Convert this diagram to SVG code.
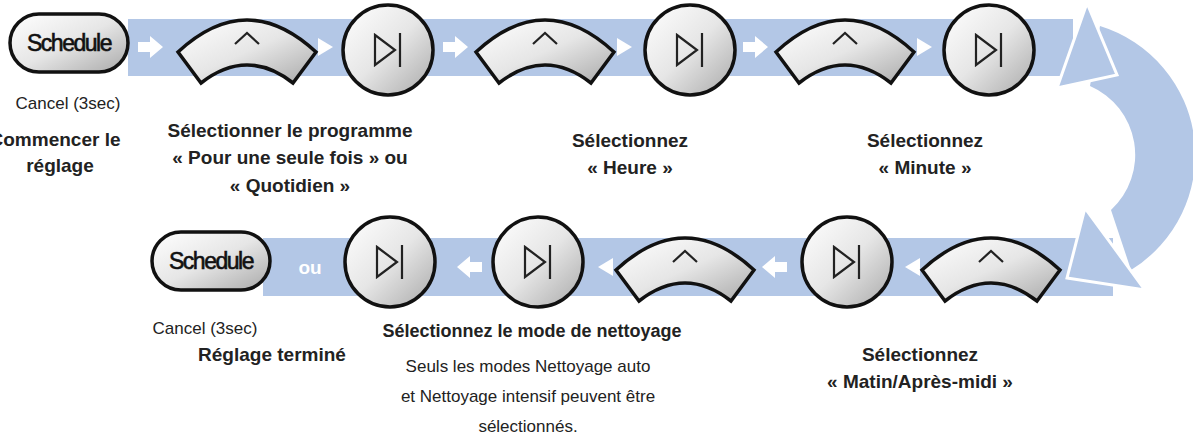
<svg xmlns="http://www.w3.org/2000/svg" width="1193" height="445" viewBox="0 0 1193 445">
<defs>
<linearGradient id="g" x1="0" y1="0" x2="1" y2="1">
<stop offset="0" stop-color="#ffffff"/><stop offset="0.5" stop-color="#e6e6e6"/><stop offset="1" stop-color="#a9a9a9"/>
</linearGradient>
<path id="arc" d="M0,32 Q69,-32 138,32 L115,63 Q69,27 23,63 Z"/>
</defs>
<style>
.band{fill:#b3c7e6}
.btn{fill:url(#g);stroke:#111;stroke-width:3.5}
.sym{fill:none;stroke:#222;stroke-width:2.2}
.wa{fill:#fff}
.b{font-family:"Liberation Sans",Arial,sans-serif;font-weight:bold;font-size:19px;fill:#222;text-anchor:middle}
.r{font-family:"Liberation Sans",Arial,sans-serif;font-size:17px;fill:#222;text-anchor:middle}
.sch{font-family:"Liberation Sans",Arial,sans-serif;font-size:23px;fill:#111;text-anchor:middle;letter-spacing:-1.5px;stroke:#111;stroke-width:0.6}
</style>
<g id="connectors">
<rect class="band" x="128" y="19" width="945" height="57"/>
<rect class="band" x="263" y="238" width="850" height="58"/>
<path class="band" d="M1100,26 A135,135 0 0 1 1131,270 L1111,210 A75,75 0 0 0 1090,86 Z"/>
<polygon class="band" points="1087,3 1117,75 1057,88" stroke="#fff" stroke-width="3"/>
<polygon class="band" points="1067,278 1085,208 1145,290" stroke="#fff" stroke-width="3"/>
<path class="wa" d="M138,42 L150,42 L150,36 L163,47 L150,58 L150,52 L138,52 Z"/>
<path class="wa" d="M318,38 L333,47 L318,56 Z"/>
<path class="wa" d="M443,42 L455,42 L455,36 L468,47 L455,58 L455,52 L443,52 Z"/>
<path class="wa" d="M617,38 L632,47 L617,56 Z"/>
<path class="wa" d="M743,42 L755,42 L755,36 L768,47 L755,58 L755,52 L743,52 Z"/>
<path class="wa" d="M917,38 L932,47 L917,56 Z"/>
<path class="wa" d="M482,262 L470,262 L470,256 L457,267 L470,278 L470,272 L482,272 Z"/>
<path class="wa" d="M613,258 L598,267 L613,276 Z"/>
<path class="wa" d="M787,262 L775,262 L775,256 L762,267 L775,278 L775,272 L787,272 Z"/>
<path class="wa" d="M920,258 L905,267 L920,276 Z"/>
</g>
<g id="schedule1"><rect class="btn" x="10" y="14" width="118" height="58" rx="29"/><text class="sch" x="69" y="51">Schedule</text></g>
<g id="up1" transform="translate(178,20)"><use href="#arc" class="btn"/><path class="sym" d="M57,24 L69,13 L81,24"/></g>
<g id="next1" transform="translate(388,50)"><circle class="btn" r="45"/><path class="sym" d="M-13,-15 L7,0 L-13,15 Z M12,-17 L12,17"/></g>
<g id="up2" transform="translate(476,20)"><use href="#arc" class="btn"/><path class="sym" d="M57,24 L69,13 L81,24"/></g>
<g id="next2" transform="translate(690,50)"><circle class="btn" r="45"/><path class="sym" d="M-13,-15 L7,0 L-13,15 Z M12,-17 L12,17"/></g>
<g id="up3" transform="translate(776,20)"><use href="#arc" class="btn"/><path class="sym" d="M57,24 L69,13 L81,24"/></g>
<g id="next3" transform="translate(989,50)"><circle class="btn" r="45"/><path class="sym" d="M-13,-15 L7,0 L-13,15 Z M12,-17 L12,17"/></g>
<g id="up4" transform="translate(922,238)"><use href="#arc" class="btn"/><path class="sym" d="M57,24 L69,13 L81,24"/></g>
<g id="next4" transform="translate(847,262)"><circle class="btn" r="45"/><path class="sym" d="M-13,-15 L7,0 L-13,15 Z M12,-17 L12,17"/></g>
<g id="up5" transform="translate(616,238)"><use href="#arc" class="btn"/><path class="sym" d="M57,24 L69,13 L81,24"/></g>
<g id="next5" transform="translate(538,262)"><circle class="btn" r="45"/><path class="sym" d="M-13,-15 L7,0 L-13,15 Z M12,-17 L12,17"/></g>
<g id="next6" transform="translate(390,262)"><circle class="btn" r="45"/><path class="sym" d="M-13,-15 L7,0 L-13,15 Z M12,-17 L12,17"/></g>
<g id="schedule2"><rect class="btn" x="152" y="232" width="118" height="58" rx="29"/><text class="sch" x="211" y="269">Schedule</text></g>
<g id="labels">
<text x="310" y="274" class="b" style="fill:#fff">ou</text>
<text class="r" x="68" y="109">Cancel (3sec)</text>
<text class="b" x="55" y="146">Commencer le</text>
<text class="b" x="60" y="172">réglage</text>
<text class="b" x="290" y="137">Sélectionner le programme</text>
<text class="b" x="290" y="164">« Pour une seule fois » ou</text>
<text class="b" x="290" y="192">« Quotidien »</text>
<text class="b" x="630" y="147">Sélectionnez</text>
<text class="b" x="630" y="174">« Heure »</text>
<text class="b" x="925" y="147">Sélectionnez</text>
<text class="b" x="925" y="174">« Minute »</text>
<text class="r" x="205" y="334">Cancel (3sec)</text>
<text class="b" x="272" y="361">Réglage terminé</text>
<text class="b" x="532" y="337" style="font-size:18px">Sélectionnez le mode de nettoyage</text>
<text class="r" x="528" y="372">Seuls les modes Nettoyage auto</text>
<text class="r" x="528" y="402">et Nettoyage intensif peuvent être</text>
<text class="r" x="528" y="432">sélectionnés.</text>
<text class="b" x="920" y="361">Sélectionnez</text>
<text class="b" x="920" y="388">« Matin/Après-midi »</text>
</g>
</svg>
